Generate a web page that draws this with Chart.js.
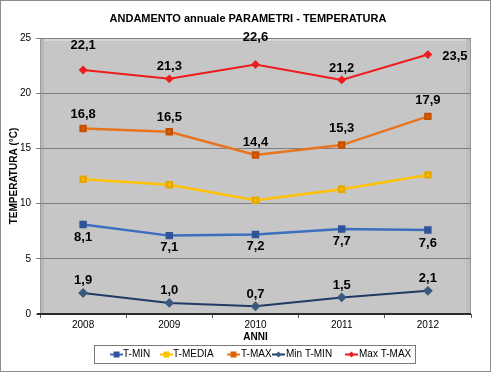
<!DOCTYPE html>
<html>
<head>
<meta charset="utf-8">
<script src="https://cdn.jsdelivr.net/npm/chart.js@4.4.1/dist/chart.umd.min.js"></script>
<style>
html,body{margin:0;padding:0;background:#fff;}
canvas{display:block;}
</style>
</head>
<body>
<canvas id="c" width="491" height="372"></canvas>
<script>
const categories = ['2008', '2009', '2010', '2011', '2012'];
const tMin = [8.1, 7.1, 7.2, 7.7, 7.6];
const tMedia = [12.2, 11.7, 10.3, 11.3, 12.6];
const tMax = [16.8, 16.5, 14.4, 15.3, 17.9];
const minTMin = [1.9, 1.0, 0.7, 1.5, 2.1];
const maxTMax = [22.1, 21.3, 22.6, 21.2, 23.5];
const yTicks = [0, 5, 10, 15, 20, 25];
const chartTitle = 'ANDAMENTO annuale PARAMETRI - TEMPERATURA';

const FONT = 'Arial, "Liberation Sans", sans-serif';
const fmt = v => v.toFixed(1).replace('.', ',');

// label placement per dataset (styling only)
const labelCfg = {
  0: {dx: [0,0,0,0,0], dy: [13,12,12,12,13]},
  2: {dx: [0,0,0,0,0], dy: [-14,-14,-13,-17,-16]},
  3: {dx: [0,0,0,0,0], dy: [-13,-13,-12,-12,-12]},
  4: {dx: [0,0,0,0,27], dy: [-25,-12,-27,-12,2]}
};

const plotBg = {
  id: 'plotBg',
  beforeDraw(chart) {
    const {ctx, chartArea: a, width, height} = chart;
    ctx.save();
    ctx.fillStyle = '#ffffff';
    ctx.fillRect(0, 0, width, height);
    ctx.strokeStyle = '#8c8c8c';
    ctx.lineWidth = 1;
    ctx.strokeRect(0.5, 0.5, width - 1, height - 1);
    // title
    ctx.fillStyle = '#000';
    ctx.font = 'bold 11px ' + FONT;
    ctx.textAlign = 'center';
    ctx.textBaseline = 'middle';
    ctx.fillText(chartTitle, 248, 19);
    // plot area
    ctx.fillStyle = '#c6c6c6';
    ctx.fillRect(a.left, a.top, a.right - a.left, a.bottom - a.top);
    ctx.fillStyle = '#d6d6d6';
    ctx.fillRect(a.left, a.top, a.right - a.left, 3);
    ctx.fillStyle = '#bdbdbd';
    ctx.fillRect(a.right - 5, a.top, 5, a.bottom - a.top);
    ctx.fillStyle = '#b8b8b8';
    ctx.fillRect(a.left, a.top, 4, a.bottom - a.top);
    ctx.strokeStyle = '#9a9a9a';
    ctx.strokeRect(a.left + 0.5, a.top + 0.5, a.right - a.left - 1, a.bottom - a.top - 1);
    ctx.restore();
  },
  beforeDatasetsDraw(chart) {
    const {ctx, chartArea: a} = chart;
    ctx.save();
    ctx.strokeStyle = '#2a2a2a';
    ctx.lineWidth = 2;
    ctx.beginPath();
    ctx.moveTo(a.left - 3, a.bottom);
    ctx.lineTo(a.right, a.bottom);
    ctx.stroke();
    ctx.restore();
  }
};

const valueLabels = {
  id: 'valueLabels',
  afterDatasetsDraw(chart) {
    const {ctx} = chart;
    ctx.save();
    ctx.font = 'bold 13px ' + FONT;
    ctx.fillStyle = '#000';
    ctx.textAlign = 'center';
    ctx.textBaseline = 'middle';
    Object.keys(labelCfg).forEach(k => {
      const i = +k;
      const meta = chart.getDatasetMeta(i);
      const data = chart.data.datasets[i].data;
      meta.data.forEach((pt, j) => {
        ctx.fillText(fmt(data[j]), pt.x + labelCfg[k].dx[j], pt.y + labelCfg[k].dy[j]);
      });
    });
    ctx.restore();
  }
};

const customLegend = {
  id: 'customLegend',
  afterDraw(chart) {
    const {ctx} = chart;
    ctx.save();
    ctx.strokeStyle = '#7a7a7a';
    ctx.lineWidth = 1;
    ctx.strokeRect(94.5, 345.5, 321, 18);
    const items = [
      {x: 110, tx: 123},
      {x: 160, tx: 173},
      {x: 227, tx: 241},
      {x: 272, tx: 286},
      {x: 345, tx: 359}
    ];
    const y = 354.5;
    ctx.font = '10px ' + FONT;
    ctx.textBaseline = 'middle';
    ctx.textAlign = 'left';
    chart.data.datasets.forEach((ds, i) => {
      const it = items[i];
      ctx.strokeStyle = ds.borderColor;
      ctx.lineWidth = 2;
      ctx.beginPath();
      ctx.moveTo(it.x, y);
      ctx.lineTo(it.x + 13, y);
      ctx.stroke();
      ctx.fillStyle = ds.pointBackgroundColor;
      const cx = it.x + 6.5;
      if (ds.pointStyle === 'rect') {
        ctx.fillRect(cx - 3, y - 3, 6, 6);
      } else {
        ctx.beginPath();
        ctx.moveTo(cx, y - 3); ctx.lineTo(cx + 3, y); ctx.lineTo(cx, y + 3); ctx.lineTo(cx - 3, y);
        ctx.closePath(); ctx.fill();
      }
      ctx.fillStyle = '#000';
      ctx.fillText(ds.label, it.tx, y);
    });
    ctx.restore();
  }
};

new Chart(document.getElementById('c'), {
  type: 'line',
  data: {
    labels: categories,
    datasets: [
      {label: 'T-MIN', data: tMin, borderColor: '#3d6fc0', pointBackgroundColor: '#2f5597', pointBorderColor: '#2f5597', pointStyle: 'rect', pointRadius: 3.5, borderWidth: 2.5},
      {label: 'T-MEDIA', data: tMedia, borderColor: '#ffc000', pointBackgroundColor: '#ffc000', pointBorderColor: '#e6a800', pointStyle: 'rect', pointRadius: 3.5, borderWidth: 2.5},
      {label: 'T-MAX', data: tMax, borderColor: '#e8741e', pointBackgroundColor: '#e0600a', pointBorderColor: '#c55000', pointStyle: 'rect', pointRadius: 3.5, borderWidth: 2.5},
      {label: 'Min T-MIN', data: minTMin, borderColor: '#1f3b63', pointBackgroundColor: '#3a5a80', pointBorderColor: '#3a5a80', pointStyle: 'rectRot', pointRadius: 3.5, borderWidth: 2},
      {label: 'Max T-MAX', data: maxTMax, borderColor: '#ee1c1c', pointBackgroundColor: '#ee1c1c', pointBorderColor: '#ee1c1c', pointStyle: 'rectRot', pointRadius: 3, borderWidth: 2}
    ]
  },
  options: {
    responsive: false,
    animation: false,
    events: [],
    clip: false,
    layout: {padding: {left: 2, right: 20, top: 38, bottom: 28}},
    elements: {line: {tension: 0}},
    plugins: {
      legend: {display: false},
      tooltip: {enabled: false},
      title: {display: false}
    },
    scales: {
      x: {
        offset: true,
        grid: {display: true, drawOnChartArea: false, drawTicks: true, tickLength: 4, offset: true, color: '#555'},
        border: {display: false},
        ticks: {color: '#000', font: {family: FONT, size: 10}, padding: 1},
        title: {display: true, text: 'ANNI', color: '#000', font: {family: FONT, size: 10, weight: 'bold'}, padding: {top: 0, bottom: 1}},
        afterFit(s) { s.height = 30; }
      },
      y: {
        min: 0, max: 25,
        afterBuildTicks(s) { s.ticks = yTicks.map(v => ({value: v})); },
        grid: {color: '#808080', tickLength: 4, drawTicks: true},
        border: {display: false},
        ticks: {color: '#000', font: {family: FONT, size: 10}, padding: 5},
        title: {display: true, text: 'TEMPERATURA (°C)', color: '#000', font: {family: FONT, size: 10, weight: 'bold'}, padding: {top: 6, bottom: 0}},
        afterFit(s) { s.width = 38; }
      }
    }
  },
  plugins: [plotBg, valueLabels, customLegend]
});
</script>
</body>
</html>
